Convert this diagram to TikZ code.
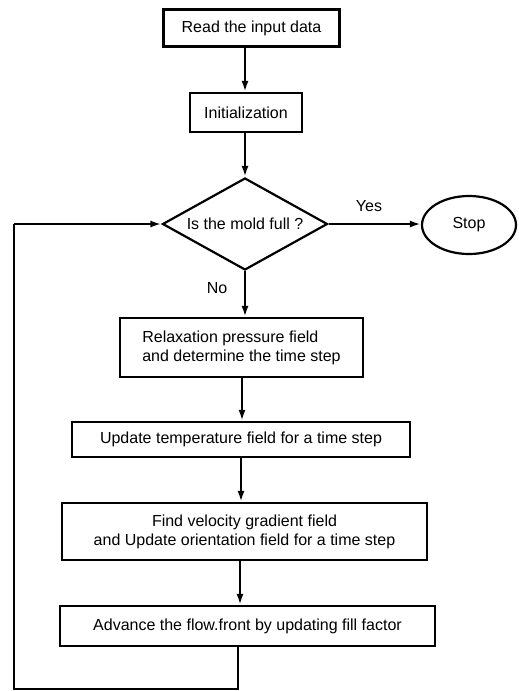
\documentclass[tikz,border=0pt]{standalone}
\usepackage{fontspec}
\setmainfont{Liberation Sans}
\usetikzlibrary{shapes.geometric,arrows.meta}
\begin{document}
\begin{tikzpicture}[x=1pt,y=-1pt,
  every node/.style={font=\fontsize{16}{19}\selectfont},
  box/.style={draw,line width=2.2pt,inner sep=0pt},
  arr/.style={line width=2.2pt,-{Latex[length=11pt,width=7pt]}},
  ln/.style={line width=2.2pt}]
\useasboundingbox (0,0) rectangle (519,691);
\node[box,minimum width=176pt,minimum height=37pt] (r1) at (251.5,28) {Read the input data};
\node[box,minimum width=112pt,minimum height=39pt] (r2) at (246,112.5) {Initialization};
\node[draw,line width=2.2pt,shape=diamond,aspect=1.8,inner sep=0pt,minimum width=165pt,minimum height=92pt] (dia) at (245,224) {Is the mold full ?};
\node[draw,line width=2.2pt,ellipse,inner sep=0pt,minimum width=94pt,minimum height=58pt] (stop) at (469,225) {Stop};
\node[box,minimum width=243pt,minimum height=59pt,align=left] (r3) at (241.5,347.5) {Relaxation pressure field\\and determine the time step};
\node[box,minimum width=338pt,minimum height=35pt] (r4) at (241,439.5) {Update temperature field for a time step};
\node[box,minimum width=365pt,minimum height=57pt,align=center] (r5) at (244.5,531.5) {Find velocity gradient field\\and Update orientation field for a time step};
\node[box,minimum width=375pt,minimum height=40pt] (r6) at (247.5,626) {Advance the flow.front by updating fill factor};
\node (yes) at (369,206) {Yes};
\node (no) at (217,288) {No};
\coordinate (c1) at (238,689);
\coordinate (c2) at (14,689);
\coordinate (c3) at (14,224);
\draw[arr] (r1.south -| dia.north) -- (r2.north -| dia.north);
\draw[arr] (r2.south -| dia.north) -- (dia.north);
\draw[arr] (dia.east) -- (dia.east -| stop.west);
\draw[arr] (dia.south) -- (r3.north -| dia.south);
\draw[arr] (r3.south -| 242,0) -- (r4.north -| 242,0);
\draw[arr] (r4.south -| 241,0) -- (r5.north -| 241,0);
\draw[arr] (r5.south -| 240,0) -- (r6.north -| 240,0);
\draw[ln] (r6.south -| c1) -- (c1) -- (c2) -- (c3);
\draw[arr] (c3) -- (dia.west);
\end{tikzpicture}
\end{document}
